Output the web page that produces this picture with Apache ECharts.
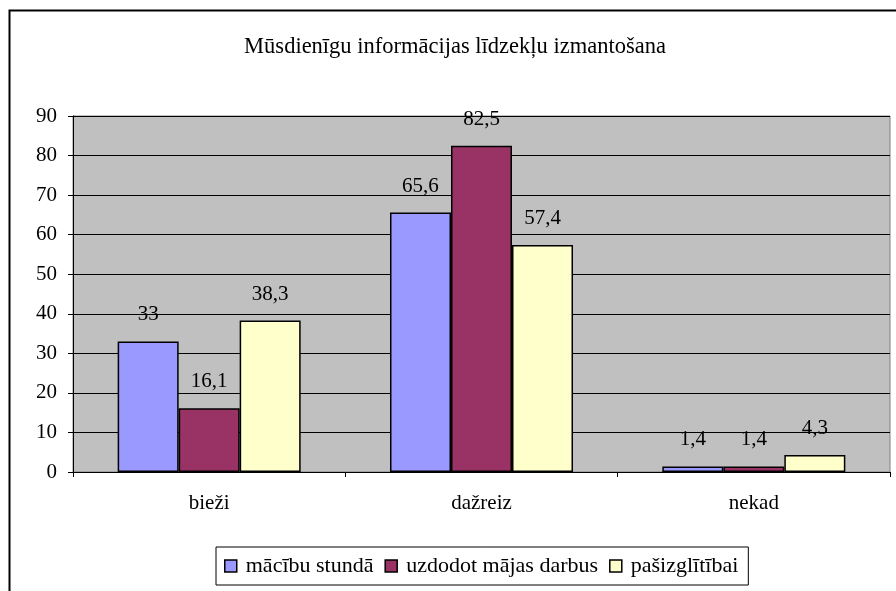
<!DOCTYPE html>
<html>
<head>
<meta charset="utf-8">
<script src="https://cdn.jsdelivr.net/npm/echarts@6/dist/echarts.min.js"></script>
<style>
  html, body { margin: 0; padding: 0; background: #fff; }
  #chart { width: 896px; height: 591px; }
</style>
</head>
<body>
<div id="chart"></div>
<script>
const categories = ["bieži", "dažreiz", "nekad"];
const seriesNames = ["mācību stundā", "uzdodot mājas darbus", "pašizglītībai"];
const macibuStunda = [33, 65.6, 1.4];
const majasDarbi = [16.1, 82.5, 1.4];
const pasizglitiba = [38.3, 57.4, 4.3];
const colors = ["#9999FF", "#993366", "#FFFFCC"];

const font = "'Liberation Serif', 'Times New Roman', serif";

function makeSeries(name, data, color) {
  return {
    type: "bar",
    name: name,
    data: data,
    barWidth: "22.4%",
    barGap: "0%",
    barCategoryGap: "33%",
    itemStyle: { color: color, borderColor: "#000", borderWidth: 1.5 },
    label: {
      show: true,
      position: "top",
      distance: 16,
      color: "#000",
      fontFamily: font,
      fontSize: 21,
      formatter: p => String(p.value).replace(".", ",")
    }
  };
}

const chart = echarts.init(document.getElementById("chart"));
chart.setOption({
  animation: false,
  backgroundColor: "#fff",
  title: {
    text: "Mūsdienīgu informācijas līdzekļu izmantošana",
    left: 450,
    textAlign: "center",
    top: 31,
    textStyle: { fontFamily: font, fontSize: 22.5, fontWeight: "normal", color: "#000" }
  },
  graphic: [{
    type: "rect",
    shape: { x: 9.5, y: 10.5, width: 950, height: 650 },
    style: { fill: null, stroke: "#000", lineWidth: 2 },
    silent: true
  }],
  grid: {
    left: 73, right: 6, top: 116, bottom: 119,
    show: true, backgroundColor: "#C0C0C0", borderColor: "#808080", borderWidth: 1
  },
  legend: {
    data: seriesNames,
    left: 216,
    top: 547,
    padding: [8, 10, 8, 8],
    itemGap: 11,
    itemWidth: 12,
    itemHeight: 12,
    icon: "rect",
    borderColor: "#000",
    borderWidth: 1,
    textStyle: { fontFamily: font, fontSize: 22, color: "#000", padding: [0, 0, 0, 4] },
    itemStyle: { borderColor: "#000", borderWidth: 1.5 }
  },
  xAxis: {
    type: "category",
    data: categories,
    axisLine: { lineStyle: { color: "#000", width: 1 } },
    axisTick: { show: true, length: 5, lineStyle: { color: "#000" } },
    axisLabel: { margin: 21, color: "#000", fontFamily: font, fontSize: 21 }
  },
  yAxis: {
    type: "value",
    min: 0, max: 90, interval: 10,
    axisLine: { show: true, lineStyle: { color: "#000", width: 1 } },
    axisTick: { show: true, length: 5, lineStyle: { color: "#000" } },
    axisLabel: { margin: 16, color: "#000", fontFamily: font, fontSize: 21 },
    splitLine: { show: true, lineStyle: { color: "#000", width: 1 } }
  },
  series: [
    makeSeries(seriesNames[0], macibuStunda, colors[0]),
    makeSeries(seriesNames[1], majasDarbi, colors[1]),
    makeSeries(seriesNames[2], pasizglitiba, colors[2])
  ]
});
</script>
</body>
</html>
